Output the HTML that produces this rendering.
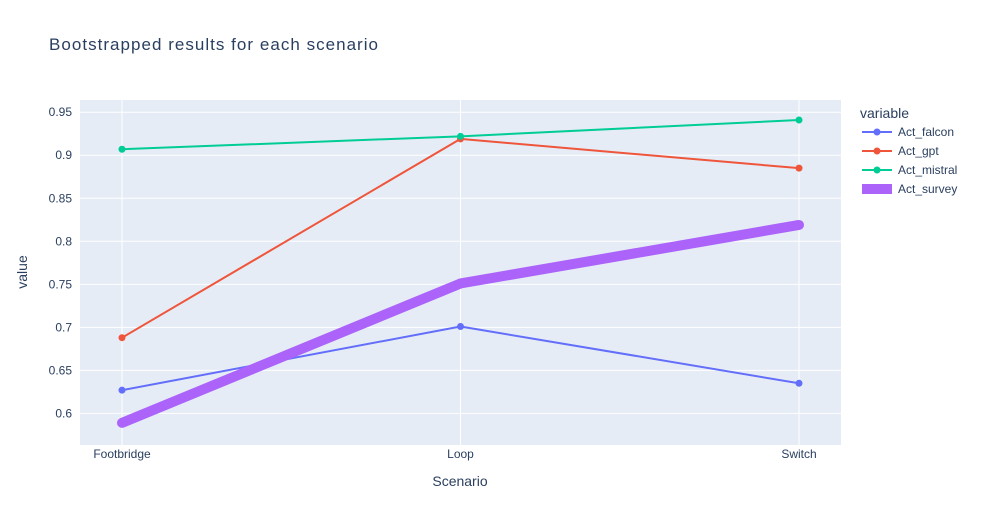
<!DOCTYPE html>
<html><head><meta charset="utf-8"><style>
body{margin:0;background:#fff;font-family:"Liberation Sans",Arial,sans-serif;}
svg text{font-family:"Liberation Sans",Arial,sans-serif;}
</style></head><body>
<svg id="chart" width="983" height="525" xmlns="http://www.w3.org/2000/svg">
<text x="49" y="50" font-size="17" fill="#2a3f5f" textLength="329">Bootstrapped results for each scenario</text>
<rect x="80" y="100" width="761" height="345" fill="#e5ecf6"/>
<g id="grid"></g><g id="series"></g><g id="legend"></g>
<text x="460" y="486" font-size="14" fill="#2a3f5f" text-anchor="middle">Scenario</text>
<text x="27" y="272" font-size="14" fill="#2a3f5f" text-anchor="middle" transform="rotate(-90 27 272)">value</text>
</svg>
<script>
const categories=["Footbridge","Loop","Switch"];
const falcon=[0.627,0.701,0.635];
const gpt=[0.688,0.919,0.885];
const mistral=[0.907,0.922,0.941];
const survey=[0.589,0.751,0.819];
const yTicks=[0.6,0.65,0.7,0.75,0.8,0.85,0.9,0.95];
const seriesNames=["Act_falcon","Act_gpt","Act_mistral","Act_survey"];
const NS="http://www.w3.org/2000/svg";
const x0=80,x1=841,yTop=100,yBot=445,yMin=0.5633,yMax=0.9642;
function xs(i){return 122+i*(799-122)/(categories.length-1);}
function ys(v){return yBot-(v-yMin)/(yMax-yMin)*(yBot-yTop);}
function mk(tag,attrs,parent){const e=document.createElementNS(NS,tag);for(const k in attrs)e.setAttribute(k,attrs[k]);parent.appendChild(e);return e;}
const grid=document.getElementById('grid');
yTicks.forEach(t=>{
 const l=mk('line',{x1:x0,x2:x1,y1:ys(t),y2:ys(t),stroke:'#fff','stroke-width':1},grid);
 
 
 const tx=mk('text',{x:72,y:ys(t)+4,'font-size':12,fill:'#2a3f5f','text-anchor':'end'},grid);
 tx.textContent=String(t);
 
 
});
categories.forEach((c,i)=>{
 const l=mk('line',{x1:xs(i),x2:xs(i),y1:yTop,y2:yBot,stroke:'#fff','stroke-width':1},grid);
 
 
 const tx=mk('text',{x:xs(i),y:458,'font-size':12,fill:'#2a3f5f','text-anchor':'middle'},grid);
 tx.textContent=c;
 
 
});
const sg=document.getElementById('series');
const defs=[[falcon,'#636efa',2,true],[gpt,'#ef553b',2,true],[mistral,'#00cc96',2,true],[survey,'#ab63fa',10,false]];
defs.forEach((d,si)=>{
 const [vals,col,w,markers]=d;
 const pts=vals.map((v,i)=>xs(i)+','+ys(v)).join(' ');
 const pl=mk('polyline',{points:pts,fill:'none',stroke:col,'stroke-width':w,'stroke-linejoin':'round'},sg);
 
 
 vals.forEach((v,i)=>{
  const c=mk('circle',{cx:xs(i),cy:ys(v),r:markers?3.5:5,fill:col},sg);
  
  
 });
});
const lg=document.getElementById('legend');
const lt=mk('text',{x:860,y:118,'font-size':14,fill:'#2a3f5f'},lg);
lt.textContent='variable';


defs.forEach((d,si)=>{
 const y=132+si*19;
 const g=mk('g',{},lg);
 
 
 mk('line',{x1:862,x2:892,y1:y,y2:y,stroke:d[1],'stroke-width':d[2]},g);
 if(d[3])mk('circle',{cx:877,cy:y,r:3.5,fill:d[1]},g);
 const t=mk('text',{x:898,y:y+4,'font-size':12,fill:'#2a3f5f'},g);
 t.textContent=seriesNames[si];
});
</script>
</body></html>
